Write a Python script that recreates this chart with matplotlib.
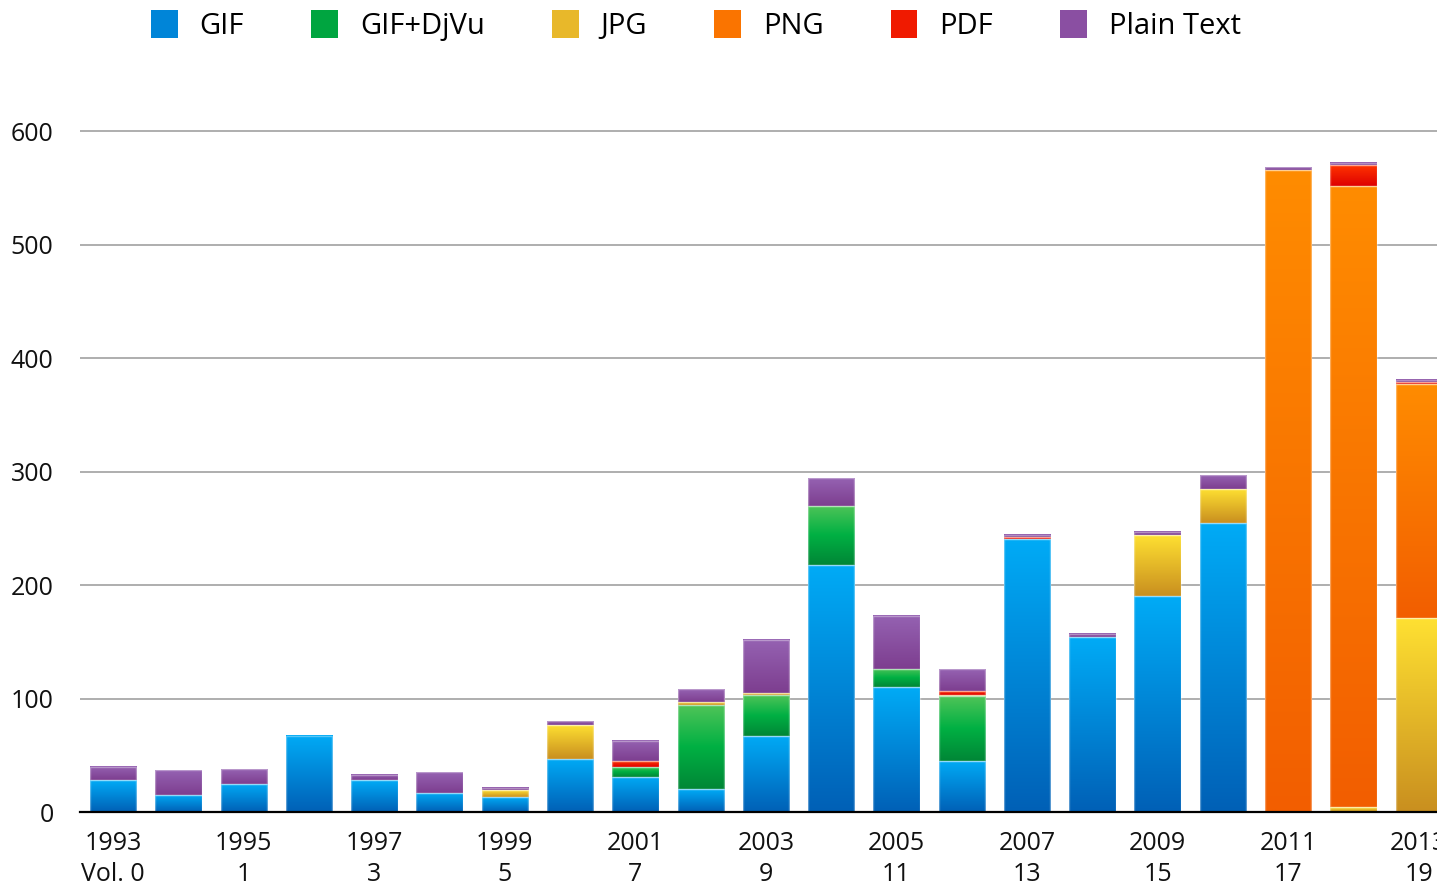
import numpy as np
import matplotlib
matplotlib.use("Agg")
import matplotlib.pyplot as plt
from matplotlib.colors import to_rgb
from matplotlib.patches import Rectangle, Patch

# ---------------- data ----------------
years = list(range(1993, 2014))
tick_years = years[::2]
tick_volumes = ["Vol. 0", "1", "3", "5", "7", "9", "11", "13", "15", "17", "19"]

gif        = [28, 15, 25, 67, 28, 17, 13, 47, 31, 20, 67, 218, 110, 45, 241, 154, 190, 255, 0, 0, 0]
gif_djvu   = [0, 0, 0, 0, 0, 0, 0, 0, 9, 74, 36, 52, 16, 57, 0, 0, 0, 0, 0, 0, 0]
jpg        = [0, 0, 0, 0, 0, 0, 6, 30, 0, 3, 2, 0, 0, 1.5, 0, 0, 54, 30, 0, 4, 171]
png        = [0, 0, 0, 0, 0, 0, 0, 0, 0, 0, 0, 0, 0, 0, 0, 0, 0, 0, 566, 548, 206]
pdf        = [0, 0, 0, 0, 0, 0, 0, 0, 5, 0, 0, 0, 0, 3.5, 1, 0, 0, 0, 0, 18, 1.5]
plain_text = [12, 22, 13, 0, 5, 18, 2, 3, 18, 11, 47, 24, 47, 19, 2, 3, 3, 12, 2, 2, 2]

series_names = ["GIF", "GIF+DjVu", "JPG", "PNG", "PDF", "Plain Text"]
series_values = [gif, gif_djvu, jpg, png, pdf, plain_text]
# gradient stops, top -> bottom
series_stops = [
    ["#00abf6", "#0060b6"],
    ["#4fc458", "#00b043", "#008636"],
    ["#ffe132", "#c98f1f"],
    ["#ff8c00", "#f25e00"],
    ["#ff3400", "#de0000"],
    ["#9562b2", "#7d3e8f"],
]
series_mid = ["#0085d8", "#00a540", "#e8b82a", "#fa7400", "#f01a00", "#8a4fa2"]

plt.rcParams["font.family"] = ["Open Sans", "DejaVu Sans"]


def gradient(stops, n=128):
    cols = np.array([to_rgb(c) for c in stops])[::-1]  # bottom -> top
    pos = np.linspace(0, 1, len(cols))
    t = np.linspace(0, 1, n)
    img = np.stack([np.interp(t, pos, cols[:, k]) for k in range(3)], axis=-1)
    return img[:, None, :]


W, H = 1456, 893
fig = plt.figure(figsize=(W / 100, H / 100), dpi=100)
left, right, bottom_px, top_px = 80, 1437, 812, 63
ax = fig.add_axes([left / W, 1 - bottom_px / H, (right - left) / W, (bottom_px - top_px) / H])

x = np.arange(len(years))
width = 0.71
base = np.zeros(len(years))
for name, vals, stops, mid in zip(series_names, series_values, series_stops, series_mid):
    vals = np.array(vals, dtype=float)
    bars = ax.bar(x, vals, width, bottom=base, color=mid, linewidth=0, zorder=2)
    img = gradient(stops)
    for r, v in zip(bars, vals):
        if v <= 0:
            continue
        x0, y0, w, h = r.get_x(), r.get_y(), r.get_width(), r.get_height()
        ax.imshow(img, extent=[x0, x0 + w, y0, y0 + h], origin="lower",
                  aspect="auto", interpolation="bilinear", zorder=3)
        ax.add_patch(Rectangle((x0, y0), w, h, fill=False,
                               edgecolor=(1, 1, 1, 0.35), linewidth=1, zorder=4))
    base += vals

ax.set_xlim(-0.51, 20.28)
ax.set_ylim(0, 660)
ax.set_aspect("auto")

ax.set_yticks(range(0, 601, 100))
ax.set_xticks(x[::2])
ax.set_xticklabels([f"{y}\n{v}" for y, v in zip(tick_years, tick_volumes)],
                   linespacing=1.3)
ax.tick_params(axis="both", length=0, labelsize=18, colors="#111111")
ax.tick_params(axis="y", pad=19)
ax.tick_params(axis="x", pad=14)

ax.yaxis.grid(True, color="#a8a8a8", linewidth=1.3, zorder=0)
ax.set_axisbelow(True)
for s in ["top", "right", "left"]:
    ax.spines[s].set_visible(False)
ax.spines["bottom"].set_color("black")
ax.spines["bottom"].set_linewidth(1.6)
ax.spines["bottom"].set_zorder(5)

handles = [Patch(facecolor=m, edgecolor="none") for m in series_mid]
fig.legend(handles, series_names, loc="upper left",
           bbox_to_anchor=(151 / W, 1 - 10 / H), ncol=6, frameon=False,
           fontsize=21, handlelength=0.92, handleheight=1.12,
           handletextpad=0.75, columnspacing=2.3, borderpad=0, borderaxespad=0)

# the reference image is cut off at the right edge
fig.patches.append(Rectangle((right / W, 0), 1 - right / W, 1, transform=fig.transFigure,
                             facecolor="white", edgecolor="none", zorder=100))

fig.savefig("out.png", dpi=100, facecolor="white")
